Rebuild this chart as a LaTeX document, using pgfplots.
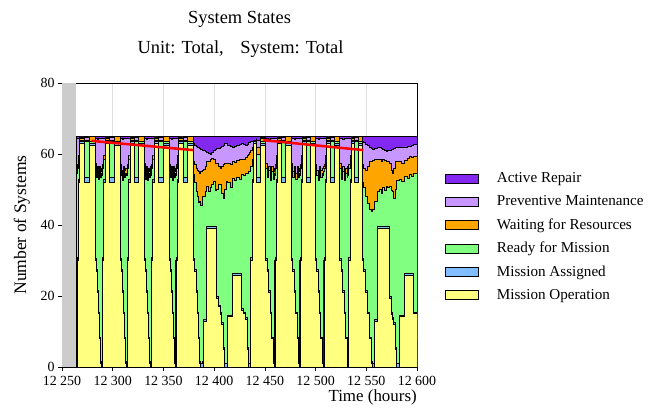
\documentclass[border=0pt]{standalone}
\usepackage{fontspec}
\setmainfont{Liberation Serif}
\usepackage{pgfplots}
\usepackage{pgfplotstable}
\pgfplotsset{compat=1.18}
\definecolor{arep}{RGB}{130,40,240}
\definecolor{pm}{RGB}{200,150,255}
\definecolor{wr}{RGB}{255,165,0}
\definecolor{rfm}{RGB}{128,255,128}
\definecolor{ma}{RGB}{128,190,255}
\definecolor{mo}{RGB}{255,255,128}
\pgfplotstableread{
t Y B G W P
12264.0 0 1 55 56.5 64.3
12264.5 0 30 54.5 56 64.5
12265.0 0 31 55 56.5 64.4
12265.0 30 31 56 57.2 64.4
12266.2 30 31 57 58 64.3
12266.2 52 53 58.5 59.5 64.5
12267.4 52 53 60 61 64.5
12267.4 63 63.5 64 64.5 64.8
12272.0 63 63.5 64 65 65
12272.0 52 53.5 63.5 64 64.6
12276.6 52 53.5 62.5 63.5 64.5
12276.6 62.5 63 63.5 65 65
12282.8 63 63.5 63.8 64.5 64.8
12282.8 30 30.5 56 57.5 64.3
12283.9 27 27.5 53.5 55 64.5
12285.0 21 21.5 55.5 56.5 64.2
12286.0 15 15.5 53 54.5 64.5
12287.1 8 8.5 55 56.5 64.3
12288.2 1 1.5 53.5 55 64.5
12289.0 0 1 54.5 56 64.3
12289.5 0 30 54 55.5 64.5
12290.0 0 31 55 56.5 64.4
12290.0 30 31 56 57.2 64.4
12291.2 30 31 57 58 64.3
12291.2 52 53 58.5 59.5 64.5
12292.4 52 53 60 61 64.5
12292.4 63 63.5 64 64.5 64.8
12296.8 63 63.5 64 65 65
12296.8 52 53.5 63.5 64 64.6
12301.3 52 53.5 62.5 63.5 64.5
12301.3 62.5 63 63.5 65 65
12307.2 63 63.5 63.8 64.5 64.8
12307.2 30 30.5 55.5 57 64.3
12308.3 27 27.5 54 55.5 64.5
12309.4 21 21.5 52.5 54 64.2
12310.6 15 15.5 55 56.5 64.5
12311.7 8 8.5 53.5 55.5 64.3
12312.8 1 1.5 54.5 56 64.5
12313.6 0 1 54 56 64.3
12314.1 0 30 55 56.5 64.5
12314.6 0 31 55.5 57 64.4
12314.6 30 31 56 57.2 64.4
12315.8 30 31 57 58 64.3
12315.8 52 53 58.5 59.5 64.5
12317.0 52 53 60 61 64.5
12317.0 63 63.5 64 64.5 64.8
12321.4 63 63.5 64 65 65
12321.4 52 53.5 63.5 64 64.6
12325.7 52 53.5 62.5 63.5 64.5
12325.7 62.5 63 63.5 65 65
12331.5 63 63.5 63.8 64.5 64.8
12331.5 30 30.5 56 57.5 64.3
12332.5 27 27.5 53 54.5 64.5
12333.5 21 21.5 55 56.5 64.2
12334.5 15 15.5 52.5 54.5 64.5
12335.5 8 8.5 54.5 56 64.3
12336.5 1 1.5 53.5 55 64.5
12337.3 0 1 55 56.5 64.3
12337.8 0 30 54 55.5 64.5
12338.3 0 31 55 56.5 64.4
12338.3 30 31 56 57.2 64.4
12339.5 30 31 57 58 64.3
12339.5 52 53 58.5 59.5 64.5
12340.7 52 53 60 61 64.5
12340.7 63 63.5 64 64.5 64.8
12345.1 63 63.5 64 65 65
12345.1 52 53.5 63.5 64 64.6
12349.6 52 53.5 62.5 63.5 64.5
12349.6 62.5 63 63.5 65 65
12355.5 63 63.5 63.8 64.5 64.8
12355.5 30 30.5 55.5 57 64.3
12356.5 27 27.5 53.5 55 64.5
12357.6 21 21.5 55 56.5 64.2
12358.6 15 15.5 52.5 54 64.5
12359.7 8 8.5 55 56.5 64.3
12360.7 1 1.5 53.5 55 64.5
12361.5 0 1 54.5 56 64.3
12362.0 0 30 54 55.5 64.5
12362.5 0 31 55 56.5 64.4
12362.5 30 31 56 57.2 64.4
12363.7 30 31 57 58 64.3
12363.7 52 53 58.5 59.5 64.5
12364.9 52 53 60 61 64.5
12364.9 63 63.5 64 64.5 64.8
12369.1 63 63.5 64 65 65
12369.1 52 53.5 63.5 64 64.6
12373.4 52 53.5 62.5 63.5 64.5
12373.4 62.5 63 63.5 65 65
12379.0 63 63.5 63.8 64.5 64.8
12379.0 30 30.5 54.2 57.9 62.9
12380.5 27 27.5 52 57 62.5
12382.0 21 21.5 49.6 56.1 62.2
12383.5 15 15.5 48 55.5 62
12384.5 8 8.5 46.5 55 61.8
12385.5 1 1.5 46.8 54.7 61.5
12386.5 0 1 45.5 55 61.3
12388.8 0 1.5 48 55.5 61
12389.3 0 13.3 48.2 55.6 61
12389.3 12.8 13.3 48.2 55.6 61
12391.0 12.8 13.3 49.5 56.5 60.7
12392.6 12.8 13.3 51 57.9 60.5
12392.6 39.2 39.7 51 57.9 60.5
12394.2 39.2 39.7 49.5 58 60.2
12395.9 39.2 39.7 50.5 58.4 60.0
12397.5 39.2 39.7 51.5 58.7 60.6
12399.2 39.2 39.7 52.3 58.4 61.0
12401.0 39.2 39.7 49.8 57.5 61.3
12402.5 39.2 39.7 50 57.4 61.5
12402.5 19.4 20 50 57.4 61.5
12404.0 17 17.5 51.5 56.5 61.7
12405.8 14.8 15.3 51.4 56 61.9
12407.5 12 12.5 49 56.5 62.2
12409.0 5 5.5 47.5 57 62.5
12410.5 0 1 50 57.3 62.9
12412.4 0 1 52.3 57.5 62.9
12413.0 0 14.7 52 57.3 62.5
12413.0 14.2 14.7 52 57.3 62.5
12415.5 14.2 14.7 50.5 57 62.2
12418.3 14.2 14.7 53.2 58 61.9
12418.3 25.9 26.3 53.2 58 61.9
12420.0 25.9 26.3 52.5 57.8 62.2
12422.0 25.9 26.3 53.5 58.2 62.4
12424.5 25.9 26.3 53 58.6 62.7
12426.8 25.9 26.3 54.2 58.4 62.9
12426.8 16 16.5 54.2 58.4 62.9
12429.0 15 15.5 54 58.6 62.7
12431.0 13.4 13.9 54.5 59 62.5
12432.5 5 5.5 54.5 59.5 62.8
12433.5 0 1 55 60 63.2
12435.0 0 1 55 60.5 63.3
12435.5 0 30 55.5 60.5 63.4
12436.0 0 31 56 61 63.5
12436.0 30 31 56.5 61 63.5
12437.2 30 31 57.5 61.5 63.5
12437.2 52 53 58.5 62 63.6
12438.4 52 53 59 62.5 63.7
12438.4 63 63.5 63.5 63.8 64.0
12442.0 63 63.5 63.6 64 64.3
12442.0 52 53.5 60 62 64.0
12445.7 52 53.5 61 63 64.4
12445.7 62.5 63 63.5 64.5 64.6
12450.5 63 63.5 63.8 64.8 65
12450.5 30 30.5 56 57.5 64.3
12452.0 27 27.5 53.5 55 64.5
12453.6 21 21.5 55.5 56.5 64.2
12455.1 15 15.5 52.5 54 64.5
12456.7 8 8.5 55 56.5 64.3
12458.2 1 1.5 53 55 64.5
12459.0 0 1 54.5 56 64.3
12459.5 0 30 54 55.5 64.5
12460.0 0 31 55 56.5 64.4
12460.0 30 31 56 57.2 64.4
12461.2 30 31 57 58 64.3
12461.2 52 53 58.5 59.5 64.5
12462.4 52 53 60 61 64.5
12462.4 63 63.5 64 64.5 64.8
12466.5 63 63.5 64 65 65
12466.5 52 53.5 63.5 64 64.6
12470.6 52 53.5 62.5 63.5 64.5
12470.6 62.5 63 63.5 65 65
12476.0 63 63.5 63.8 64.5 64.8
12476.0 30 30.5 56 57.5 64.3
12477.4 27 27.5 53.5 55 64.5
12478.8 21 21.5 55.5 56.5 64.2
12480.1 15 15.5 53 54.5 64.5
12481.5 8 8.5 55 56.5 64.3
12482.9 1 1.5 53.5 55 64.5
12483.7 0 1 54.5 56 64.3
12484.2 0 30 54 55.5 64.5
12484.7 0 31 55 56.5 64.4
12484.7 30 31 56 57.2 64.4
12485.9 30 31 57 58 64.3
12485.9 52 53 58.5 59.5 64.5
12487.1 52 53 60 61 64.5
12487.1 63 63.5 64 64.5 64.8
12490.9 63 63.5 64 65 65
12490.9 52 53.5 63.5 64 64.6
12494.7 52 53.5 62.5 63.5 64.5
12494.7 62.5 63 63.5 65 65
12499.7 63 63.5 63.8 64.5 64.8
12499.7 30 30.5 55.5 57 64.3
12501.1 27 27.5 54 55.5 64.5
12502.4 21 21.5 52.5 54 64.2
12503.8 15 15.5 55 56.5 64.5
12505.1 8 8.5 53.5 55.5 64.3
12506.5 1 1.5 54.5 56 64.5
12507.3 0 1 54 56 64.3
12507.8 0 30 55 56.5 64.5
12508.3 0 31 55.5 57 64.4
12508.3 30 31 56 57.2 64.4
12509.5 30 31 57 58 64.3
12509.5 52 53 58.5 59.5 64.5
12510.7 52 53 60 61 64.5
12510.7 63 63.5 64 64.5 64.8
12514.5 63 63.5 64 65 65
12514.5 52 53.5 63.5 64 64.6
12518.3 52 53.5 62.5 63.5 64.5
12518.3 62.5 63 63.5 65 65
12523.4 63 63.5 63.8 64.5 64.8
12523.4 30 30.5 56 57.5 64.3
12524.9 27 27.5 53 54.5 64.5
12526.4 21 21.5 55 56.5 64.2
12527.9 15 15.5 52.5 54.5 64.5
12529.4 8 8.5 54.5 56 64.3
12530.9 1 1.5 53.5 55 64.5
12531.7 0 1 55 56.5 64.3
12532.2 0 30 54 55.5 64.5
12532.7 0 31 55 56.5 64.4
12532.7 30 31 56 57.2 64.4
12533.9 30 31 57 58 64.3
12533.9 52 53 58.5 59.5 64.5
12535.1 52 53 60 61 64.5
12535.1 63 63.5 64 64.5 64.8
12538.5 63 63.5 64 65 65
12538.5 52 53.5 63.5 64 64.6
12541.9 52 53.5 62.5 63.5 64.5
12541.9 62.5 63 63.5 65 65
12546.4 63 63.5 63.8 64.5 64.8
12546.4 30 30.5 52 57 63.5
12547.5 27 27.5 50.5 56 63.3
12549.2 21 21.5 48 55.5 62.8
12550.9 15 15.5 46 56.5 62.5
12552.6 8 8.5 44.5 57.9 62.0
12554.5 1 1.5 43.9 58 61.6
12555.5 0 1 44.5 58.1 61.4
12557.5 0 1.5 46.2 58.4 61.5
12558.0 0 13.3 46.6 58.4 61.6
12558.0 12.8 13.3 46.6 58.4 61.6
12561.2 12.8 13.3 49.4 58.4 61.9
12561.2 39.2 39.7 49.4 58.4 61.9
12562.9 39.2 39.7 50 58.4 61.8
12564.5 39.2 39.7 48.8 57.9 61.5
12566.2 39.2 39.7 50.5 58.4 61.3
12568.0 39.2 39.7 49.8 58.2 61.0
12569.4 39.2 39.7 51 58 60.8
12571.0 39.2 39.7 50.5 57.9 61.0
12572.7 39.2 39.7 51 57.5 61.1
12572.7 19.4 20 51 57.5 61.1
12575.0 14.8 15.3 49.8 55.5 61.3
12576.0 13.5 14 49.4 54.7 61.3
12577.0 12 12.5 47.5 56 61.5
12578.8 5 5.5 50 57.9 61.8
12580.0 0 1 52.5 57.9 61.9
12582.3 0 1.5 53 57.9 61.8
12582.6 0 14.7 53 57.9 61.8
12582.6 14.2 14.7 53 57.9 61.8
12585.0 14.2 14.7 52.3 57.5 62.0
12587.5 14.2 14.7 53.8 58.2 62.0
12587.5 25.9 26.3 53.8 58.2 62.0
12590.0 25.9 26.3 53.2 58.8 62.2
12592.4 25.9 26.3 54.3 59.4 62.3
12594.5 25.9 26.3 53.8 59 62.5
12596.4 25.9 26.3 54.5 59.4 62.6
12596.4 15 15.5 54.5 59.4 62.6
12600.0 14.5 15 54.7 59.4 62.8
}\states
\begin{document}
\begin{tikzpicture}
\path[use as bounding box] (0,0) rectangle (657bp,408bp);
\begin{axis}[
  at={(62bp,41bp)}, anchor=south west,
  scale only axis, width=355bp, height=284bp,
  xmin=12250, xmax=12600, ymin=0, ymax=80,
  scaled x ticks=false, scaled y ticks=false,
  xtick={12250,12300,12350,12400,12450,12500,12550,12600},
  xticklabels={12~250,12~300,12~350,12~400,12~450,12~500,12~550,12~600},
  ytick={0,20,40,60,80},
  yticklabels={0,20,40,60,80},
  tick align=outside, tick pos=left,
  major tick length=4bp,
  xmajorgrids, grid style={gray!25, line width=0.6bp},
  axis line style={line width=0.6bp},
  tick style={black, line width=0.6bp},
  ticklabel style={font=\fontsize{14}{16}\selectfont},
  xticklabel style={yshift=-1.5bp},
  yticklabel style={yshift=0.5bp},
  xlabel={Time (hours)},
  xlabel style={at={(axis description cs:1,-0.108)}, anchor=east, inner sep=0pt, font=\fontsize{17}{19}\selectfont},
  ylabel={Number of Systems},
  ylabel style={at={(axis description cs:-0.113,0.5)}, anchor=center, font=\fontsize{17.6}{19}\selectfont},
  legend style={draw=none, fill=none, at={(axis description cs:1.0706,0.698)}, anchor=north west,
    font=\fontsize{15.2}{17}\selectfont, row sep=7.4bp,
    nodes={inner xsep=10bp}},
  legend cell align=left,
  legend image code/.code={\draw[#1, draw=black, line width=0.6bp] (0bp,-4.5bp) rectangle (33bp,4.5bp); \path (41bp,0bp);},
  every axis plot/.append style={line width=0.6bp},
]
\addplot[fill=gray!40, draw=none, forget plot] coordinates {(12250,80) (12264,80)} \closedcycle;
\addplot[fill=arep, draw=black] coordinates {(12264,65) (12600,65)} \closedcycle;
\addlegendentry{Active Repair}
\addplot[const plot, fill=pm, draw=black] table[x=t, y=P] {\states} \closedcycle;
\addlegendentry{Preventive Maintenance}
\addplot[const plot, fill=wr, draw=black] table[x=t, y=W] {\states} \closedcycle;
\addlegendentry{Waiting for Resources}
\addplot[const plot, fill=rfm, draw=black] table[x=t, y=G] {\states} \closedcycle;
\addlegendentry{Ready for Mission}
\addplot[const plot, fill=ma, draw=black] table[x=t, y=B] {\states} \closedcycle;
\addlegendentry{Mission Assigned}
\addplot[const plot, fill=mo, draw=black] table[x=t, y=Y] {\states} \closedcycle;
\addlegendentry{Mission Operation}
\addplot[red, line width=2.5bp, forget plot] coordinates {(12279,63.7) (12379,61.1)};
\addplot[red, line width=2.5bp, forget plot] coordinates {(12448.5,63.9) (12547,61.1)};
\end{axis}
\node[font=\fontsize{18.5}{21}\selectfont] at (239.5bp,389bp) {System States};
\node[font=\fontsize{18.5}{21}\selectfont] at (240.5bp,359bp) {Unit: Total,\hspace{0.9em}System: Total};
\end{tikzpicture}
\end{document}
